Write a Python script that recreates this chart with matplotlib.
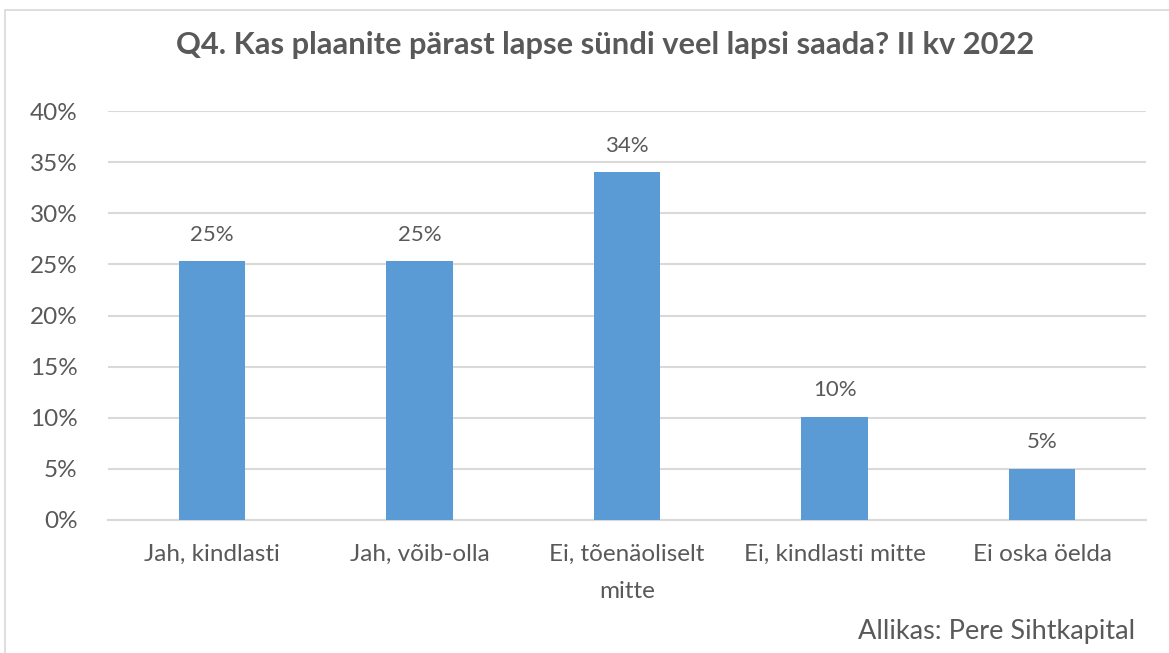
import matplotlib.pyplot as plt
from matplotlib.patches import Rectangle

# ---------- Data ----------
categories = ["Jah, kindlasti", "Jah, võib-olla", "Ei, tõenäoliselt\nmitte",
              "Ei, kindlasti mitte", "Ei oska öelda"]
values = [25.3, 25.3, 34.0, 10.1, 5.0]
labels = ["25%", "25%", "34%", "10%", "5%"]
yticks = [0, 5, 10, 15, 20, 25, 30, 35, 40]

TXT = "#595959"
GRID = "#d9d9d9"
BAR = "#5b9bd5"

plt.rcParams["font.family"] = ["Lato", "DejaVu Sans"]

fig = plt.figure(figsize=(11.69, 6.53), dpi=100)
ax = fig.add_axes([108 / 1169, 1 - 520 / 653, (1146 - 108) / 1169, (520 - 111) / 653])

# chart frame
fig.patches.append(Rectangle((5 / 1169, -0.1), 1.2, 1 - 10 / 653 + 0.1,
                             transform=fig.transFigure, fill=False,
                             edgecolor="#d9d9d9", linewidth=1.2))

x = range(len(categories))
ax.bar(x, values, width=0.32, color=BAR, zorder=3)
for xi, v, lab in zip(x, values, labels):
    ax.text(xi, v + 2.6, lab, ha="center", va="center", fontsize=16, color=TXT)

ax.set_xlim(-0.5, len(categories) - 0.5)
ax.set_ylim(0, 40)
ax.set_yticks(yticks)
ax.set_yticklabels([f"{t}%" for t in yticks], fontsize=17.5, color=TXT)
ax.set_xticks(list(x))
ax.set_xticklabels(categories, fontsize=17.5, color=TXT, linespacing=1.95)
ax.tick_params(length=0)
ax.tick_params(axis="y", pad=22)
ax.tick_params(axis="x", pad=17)
ax.grid(axis="y", color=GRID, linewidth=1.5, zorder=0)
for s in ["top", "right", "left"]:
    ax.spines[s].set_visible(False)
ax.spines["bottom"].set_color(GRID)
ax.spines["bottom"].set_linewidth(1.5)

fig.text(0.518, 1 - 45 / 653, "Q4. Kas plaanite pärast lapse sündi veel lapsi saada? II kv 2022",
         ha="center", va="center", fontsize=22.2, fontweight="bold", color=TXT)
fig.text(1135 / 1169, 1 - 632 / 653, "Allikas: Pere Sihtkapital",
         ha="right", va="center", fontsize=19.5, color=TXT)

fig.savefig("out.png", dpi=100)
